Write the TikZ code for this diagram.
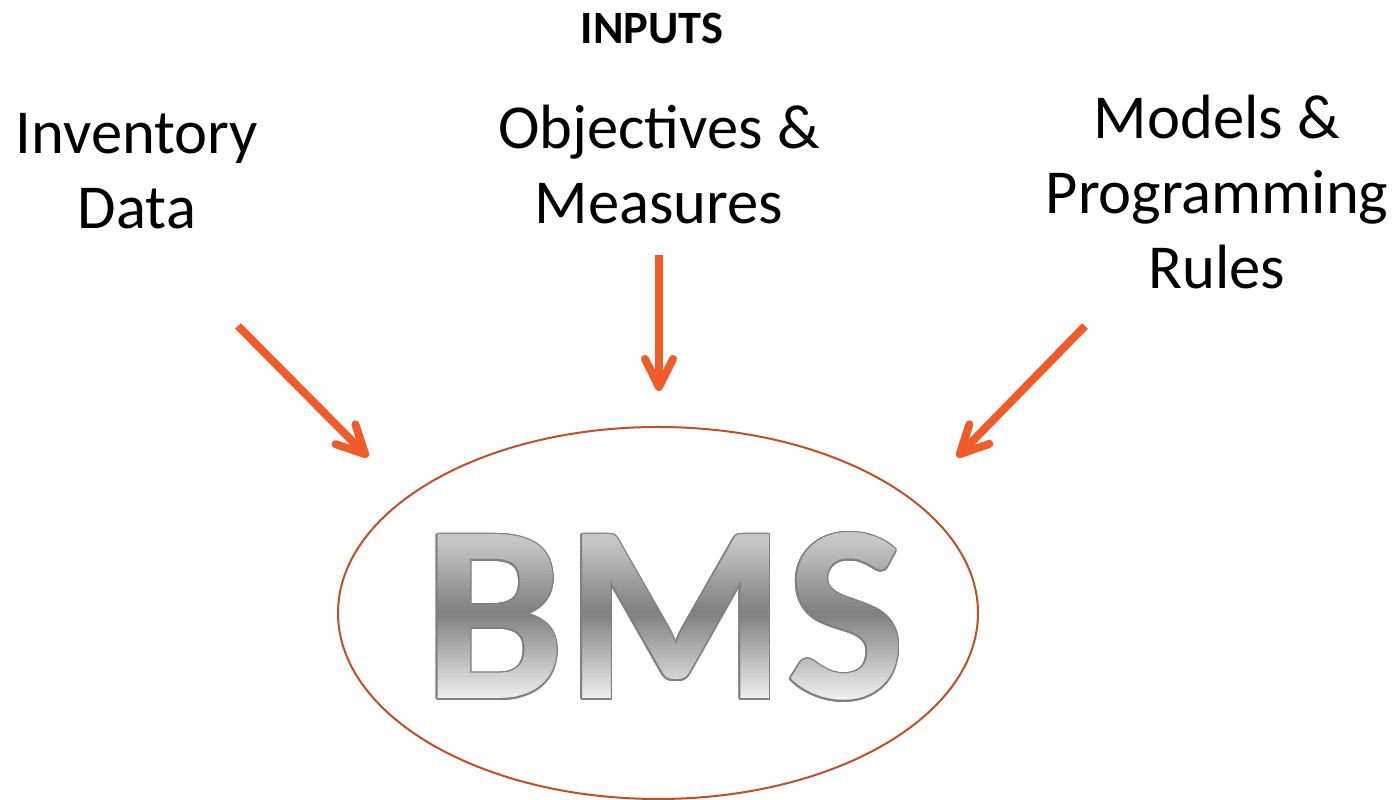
\documentclass[tikz,border=0pt]{standalone}
\usepackage{fontspec}
\setmainfont{Carlito}
\usetikzlibrary{arrows.meta, shapes.geometric}
\definecolor{arrowcolor}{RGB}{241, 90, 41}
\definecolor{rimcolor}{RGB}{192, 80, 36}
\definecolor{edgecolor}{RGB}{128, 128, 128}

\begin{document}
\begin{tikzpicture}[
    caption/.style={font=\fontsize{17.8}{21.4}\selectfont, align=center, inner sep=0pt, anchor=base},
    heading/.style={font=\fontsize{13.2}{16}\selectfont\bfseries, inner sep=0pt, anchor=base},
    arrow/.style={-{Straight Barb[length=0.28cm, width=0.28cm, round]}, draw=arrowcolor, line width=0.08cm},
    rim/.style={draw=rimcolor, line width=0.02cm, ellipse, minimum width=6.4cm, minimum height=3.72cm, inner sep=0pt},
    logo/.style={font=\fontsize{72}{80}\selectfont\bfseries, inner sep=0pt, anchor=base}
]
    \useasboundingbox (0, 0) rectangle (14, 8);

    % Title
    \node[heading] (inputs) at (6.52, 7.56) {INPUTS};

    % Inputs
    \node[caption] (inventory) at (1.37, 5.71) {Inventory\\Data};
    \node[caption] (objectives) at (6.59, 5.76) {Objectives \&\\Measures};
    \node[caption] (models) at (12.17, 5.11) {Models \&\\Programming\\Rules};

    % BMS
    \node[rim] (bms) at (6.58, 1.87) {};
    \coordinate (bmsbase) at (6.645, 1.01);
    \foreach \a in {0, 22.5, ..., 337.5}
        \node[logo, text=edgecolor, shift={(\a:0.016)}] (edge-\a) at (bmsbase) {BMS};
    \foreach \i in {0, ..., 43} {
        \pgfmathsetmacro\yb{0.95 + \i*0.04}
        \pgfmathsetmacro\yc{\yb + 0.02}
        \pgfmathsetmacro\g{\yc > 1.88 ? min(0.78, 0.50 + 0.28*(\yc - 1.88)/0.72) : min(0.94, 0.50 + 0.44*(1.88 - \yc)/0.87)}
        \definecolor{bandcolor}{gray}{\g}
        \begin{scope}
            \clip (4, \yb) rectangle (9.5, \yb + 0.045);
            \node[logo, text=bandcolor] (band-\i) at (bmsbase) {BMS};
        \end{scope}
    }

    % Connections
    \coordinate (inventory-out) at (2.38, 4.74);
    \coordinate (inventory-in) at (3.68, 3.43);
    \coordinate (objectives-out) at (6.59, 5.45);
    \coordinate (objectives-in) at (6.59, 4.09);
    \coordinate (models-out) at (10.85, 4.74);
    \coordinate (models-in) at (9.57, 3.43);
    \draw[arrow] (inventory-out) -- (inventory-in);
    \draw[arrow] (objectives-out) -- (objectives-in);
    \draw[arrow] (models-out) -- (models-in);

\end{tikzpicture}
\end{document}
